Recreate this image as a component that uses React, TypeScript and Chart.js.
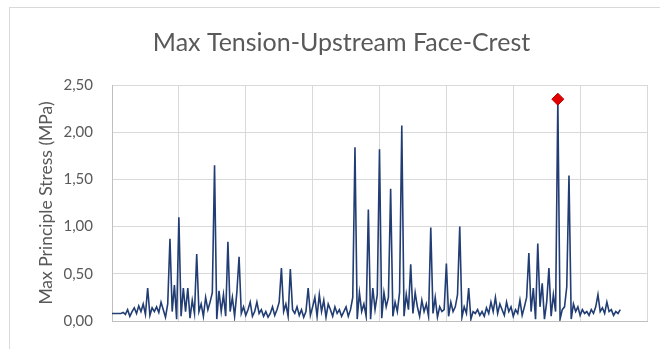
import React, { useEffect, useRef } from "react";
import { Chart, registerables } from "chart.js";

Chart.register(...registerables);

const TITLE = "Max Tension-Upstream Face-Crest";
const Y_TITLE = "Max Principle Stress (MPa)";
const Y_TICKS = [0, 0.5, 1.0, 1.5, 2.0, 2.5];
const X_MAX = 240;
const X_STEP = 30;

// Max principle stress (MPa) per sample
const STRESS: number[] = [
  0.08, 0.08, 0.08, 0.08, 0.08, 0.09, 0.07, 0.12, 0.05, 0.10,
  0.14, 0.08, 0.16, 0.10, 0.18, 0.07, 0.35, 0.06, 0.14, 0.10,
  0.15, 0.09, 0.20, 0.12, 0.04, 0.18, 0.87, 0.10, 0.38, 0.02,
  1.10, 0.05, 0.35, 0.10, 0.35, 0.03, 0.22, 0.08, 0.71, 0.10,
  0.18, 0.05, 0.25, 0.12, 0.20, 0.30, 1.65, 0.02, 0.32, 0.10,
  0.28, 0.05, 0.84, 0.10, 0.25, 0.05, 0.30, 0.68, 0.08, 0.15,
  0.06, 0.12, 0.20, 0.05, 0.10, 0.20, 0.08, 0.12, 0.05, 0.10,
  0.04, 0.08, 0.15, 0.06, 0.12, 0.20, 0.56, 0.10, 0.18, 0.05,
  0.55, 0.12, 0.08, 0.15, 0.06, 0.12, 0.04, 0.10, 0.35, 0.06,
  0.15, 0.25, 0.05, 0.28, 0.10, 0.22, 0.04, 0.18, 0.12, 0.05,
  0.15, 0.08, 0.12, 0.05, 0.10, 0.15, 0.05, 0.12, 0.25, 1.84,
  0.02, 0.30, 0.10, 0.18, 0.05, 1.18, 0.02, 0.35, 0.12, 0.28,
  1.82, 0.03, 0.30, 0.15, 0.25, 1.40, 0.05, 0.20, 0.10, 0.30,
  2.07, 0.05, 0.28, 0.12, 0.60, 0.08, 0.30, 0.15, 0.05, 0.22,
  0.10, 0.18, 0.05, 0.99, 0.08, 0.25, 0.04, 0.15, 0.10, 0.12,
  0.61, 0.05, 0.20, 0.10, 0.15, 0.28, 1.00, 0.04, 0.15, 0.08,
  0.35, 0.02, 0.10, 0.08, 0.12, 0.06, 0.10, 0.05, 0.14, 0.08,
  0.20, 0.10, 0.25, 0.08, 0.18, 0.12, 0.06, 0.20, 0.10, 0.15,
  0.05, 0.12, 0.08, 0.22, 0.06, 0.15, 0.25, 0.72, 0.10, 0.35,
  0.02, 0.82, 0.15, 0.40, 0.02, 0.20, 0.56, 0.05, 0.28, 0.10,
  2.35, 0.02, 0.12, 0.15, 0.36, 1.54, 0.02, 0.18, 0.10, 0.15,
  0.06, 0.12, 0.08, 0.10, 0.06, 0.12, 0.08, 0.15, 0.28, 0.10,
  0.14, 0.08, 0.20, 0.10, 0.12, 0.06, 0.10, 0.08, 0.12,
];

const FONT = "Lato, 'Open Sans', sans-serif";

export default function App() {
  const ref = useRef<HTMLCanvasElement | null>(null);

  useEffect(() => {
    document.body.style.margin = "0";
    const canvas = ref.current;
    if (!canvas) return;
    const points = STRESS.map((y, i) => ({ x: i, y }));
    let maxIdx = 0;
    STRESS.forEach((v, i) => {
      if (v > STRESS[maxIdx]) maxIdx = i;
    });

    const chart = new Chart(canvas, {
      type: "line",
      data: {
        datasets: [
          {
            data: points,
            borderColor: "#213d73",
            borderWidth: 1.6,
            tension: 0,
            pointStyle: "rectRot",
            pointRadius: (ctx: any) => (ctx.dataIndex === maxIdx ? 6 : 0),
            pointHoverRadius: 0,
            pointBackgroundColor: "#e00000",
            pointBorderColor: "#c00000",
            pointBorderWidth: 1,
          },
        ],
      },
      options: {
        animation: false,
        responsive: false,
        maintainAspectRatio: false,
        layout: { padding: { left: 36, right: 13, top: 0, bottom: 0 } },
        plugins: {
          legend: { display: false },
          tooltip: { enabled: false },
          title: {
            display: true,
            text: TITLE,
            color: "#595959",
            font: { family: FONT, size: 25, weight: "normal" },
            padding: { top: 28, bottom: 27 },
          },
        },
        scales: {
          x: {
            type: "linear",
            min: 0,
            max: X_MAX,
            ticks: { display: false, stepSize: X_STEP },
            grid: { color: "#d9d9d9", drawTicks: false, lineWidth: 1 },
            border: { color: "#bfbfbf" },
            afterFit: (scale: any) => {
              scale.height = 20;
            },
          },
          y: {
            min: 0,
            max: 2.5,
            afterBuildTicks: (scale: any) => {
              scale.ticks = Y_TICKS.map((v) => ({ value: v }));
            },
            afterFit: (scale: any) => {
              scale.width = 112 - 36;
            },
            ticks: {
              color: "#595959",
              font: { family: FONT, size: 15 },
              padding: 19,
              callback: (v: any) => Number(v).toFixed(2).replace(".", ","),
            },
            grid: { color: "#d9d9d9", drawTicks: false, lineWidth: 1 },
            border: { color: "#bfbfbf" },
            title: {
              display: true,
              text: Y_TITLE,
              color: "#595959",
              font: { family: FONT, size: 17.5 },
              padding: 0,
            },
          },
        },
      },
    });
    return () => chart.destroy();
  }, []);

  return (
    <div style={{ position: "relative", width: 660, height: 349, background: "#fff", overflow: "hidden" }}>
      <div
        style={{
          position: "absolute",
          left: 9,
          top: 7,
          width: 700,
          height: 400,
          borderTop: "1px solid #d9d9d9",
          borderLeft: "1px solid #d9d9d9",
        }}
      />
      <canvas ref={ref} width={660} height={349} style={{ position: "absolute", left: 0, top: 0 }} />
    </div>
  );
}
